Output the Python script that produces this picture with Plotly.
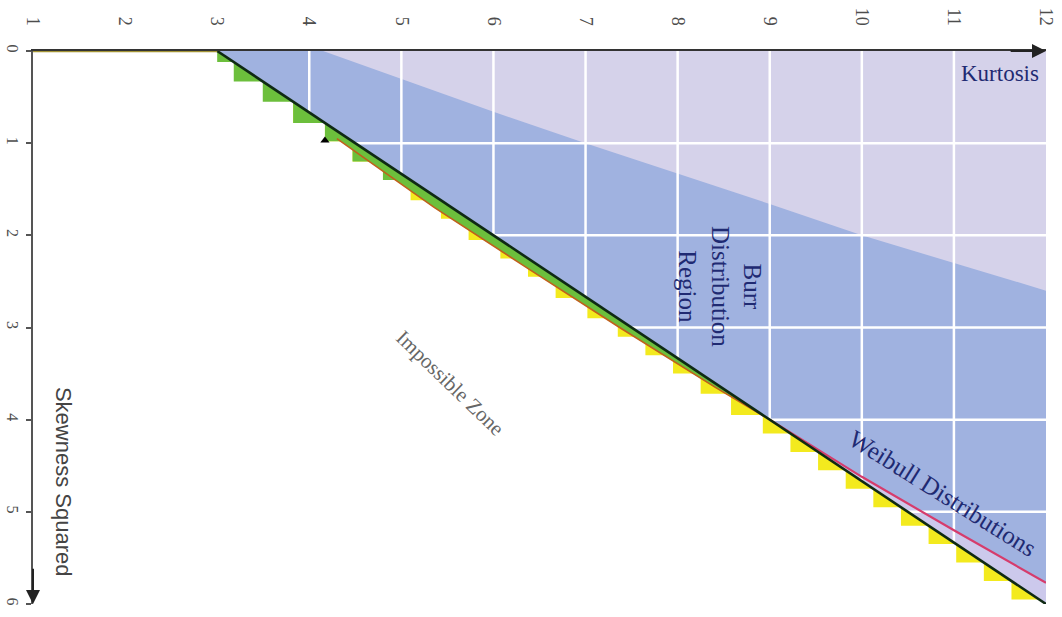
import numpy as np
import plotly.graph_objects as go

# ---------------- data ----------------
kurt_ticks = [1, 2, 3, 4, 5, 6, 7, 8, 9, 10, 11, 12]
skew_ticks = [0, 1, 2, 3, 4, 5, 6]

# gamma (lower Burr) boundary line: kurtosis vs skewness squared
gamma_k = [3.0, 12.0]
gamma_s = [0.0, 6.0]

# upper edge of Burr region (lavender above)
burr_top_k = [4.15, 5.0, 6.0, 7.0, 8.0, 9.0, 10.0, 11.0, 12.0]
burr_top_s = [0.0, 0.30, 0.66, 1.0, 1.33, 1.66, 2.0, 2.3, 2.6]

# Weibull curve (kurtosis, skewness squared)
weib_k = [4.30, 5.36, 6.36, 7.37, 8.41, 9.0, 10.0, 11.0, 12.0]
weib_s = [0.95, 1.70, 2.35, 3.00, 3.65, 4.0, 4.62, 5.20, 5.77]

# staircase levels (skewness squared) of the rasterised boundary band
stair_s = [0.0, 0.12, 0.33, 0.55, 0.78, 0.98, 1.2, 1.4, 1.62, 1.82, 2.05, 2.25,
           2.45, 2.68, 2.9, 3.1, 3.3, 3.5, 3.72, 3.95, 4.15, 4.35, 4.55, 4.75,
           4.95, 5.15, 5.35, 5.55, 5.75, 5.95]
green_stair_until = 1.4

grid_k = [4, 5, 6, 7, 8, 9, 10, 11]
grid_s = [1, 2, 3, 4, 5]

marker_k = [4.17]
marker_s = [0.97]

# ---------------- colours ----------------
BLUE = '#a0b2e0'
LAVENDER = '#d5d2ea'
STRIP = '#ccc9ec'
GREEN = '#6cbf3c'
YELLOW = '#f3ea1e'
NAVY = '#1f2a72'


def line_k(s):
    return float(np.interp(s, gamma_s, gamma_k))


def stair_poly(levels):
    xs, ys = [], []
    for a, b in zip(levels[:-1], levels[1:]):
        xs += [line_k(a), line_k(a), line_k(b)]
        ys += [a, b, b]
    xs += [line_k(levels[-1]), line_k(levels[0])]
    ys += [levels[-1], levels[0]]
    return xs, ys


fig = go.Figure()

# blue Burr region (right of gamma line)
fig.add_trace(go.Scatter(x=[gamma_k[0], gamma_k[1], kurt_ticks[-1], gamma_k[0]],
                         y=[gamma_s[0], gamma_s[1], skew_ticks[0], gamma_s[0]],
                         fill='toself', fillcolor=BLUE, line=dict(width=0),
                         mode='lines', hoverinfo='skip'))
# lavender region above
fig.add_trace(go.Scatter(x=burr_top_k + [kurt_ticks[-1], burr_top_k[0]],
                         y=burr_top_s + [skew_ticks[0], burr_top_s[0]],
                         fill='toself', fillcolor=LAVENDER, line=dict(width=0),
                         mode='lines', hoverinfo='skip'))
# light strip between Weibull curve and gamma line
wk = [k for k, s in zip(weib_k, weib_s) if s >= 4.0]
ws = [s for s in weib_s if s >= 4.0]
fig.add_trace(go.Scatter(x=wk + [gamma_k[1], wk[0]],
                         y=ws + [gamma_s[1], ws[0]],
                         fill='toself', fillcolor=STRIP, line=dict(width=0),
                         mode='lines', hoverinfo='skip'))

# yellow staircase
ys_levels = [s for s in stair_s if s >= 0.55]
sx, sy = stair_poly(ys_levels)
fig.add_trace(go.Scatter(x=sx, y=sy, fill='toself', fillcolor=YELLOW,
                         line=dict(width=0), mode='lines', hoverinfo='skip'))
# green staircase near the top
gs_levels = [s for s in stair_s if s <= green_stair_until]
sx, sy = stair_poly(gs_levels)
fig.add_trace(go.Scatter(x=sx, y=sy, fill='toself', fillcolor=GREEN,
                         line=dict(width=0), mode='lines', hoverinfo='skip'))
# green band between gamma line and Weibull curve
bk = [k for k, s in zip(weib_k, weib_s) if s <= 4.0]
bs = [s for s in weib_s if s <= 4.0]
fig.add_trace(go.Scatter(x=bk + [line_k(bs[-1]), line_k(bs[0])],
                         y=bs + [bs[-1], bs[0]],
                         fill='toself', fillcolor=GREEN, line=dict(width=0),
                         mode='lines', hoverinfo='skip'))

# white grid lines inside the coloured region
for k in grid_k:
    s_end = float(np.interp(k, gamma_k, gamma_s))
    fig.add_trace(go.Scatter(x=[k, k], y=[skew_ticks[0], s_end], mode='lines',
                             line=dict(color='white', width=2.5), hoverinfo='skip'))
for s in grid_s:
    fig.add_trace(go.Scatter(x=[line_k(s), kurt_ticks[-1]], y=[s, s], mode='lines',
                             line=dict(color='white', width=2.5), hoverinfo='skip'))

# Weibull curve: orange part below the line, red part above
fig.add_trace(go.Scatter(x=bk, y=bs, mode='lines',
                         line=dict(color='#c0601c', width=1.6), hoverinfo='skip'))
fig.add_trace(go.Scatter(x=wk, y=ws, mode='lines',
                         line=dict(color='#d63c6c', width=2.2), hoverinfo='skip'))

# gamma boundary line
fig.add_trace(go.Scatter(x=gamma_k, y=gamma_s, mode='lines',
                         line=dict(color='#0f2a14', width=2.6), hoverinfo='skip'))

# olive line on the top axis from kurtosis 1 to 3
fig.add_trace(go.Scatter(x=[kurt_ticks[0], gamma_k[0]], y=[0, 0], mode='lines',
                         line=dict(color='#a39436', width=2.5), hoverinfo='skip'))

# small black marker
fig.add_trace(go.Scatter(x=marker_k, y=marker_s, mode='markers',
                         marker=dict(symbol='triangle-up', size=8, color='black'),
                         hoverinfo='skip'))

fig.update_xaxes(range=[kurt_ticks[0], kurt_ticks[-1]], side='top',
                 tickvals=kurt_ticks, ticktext=[str(v) for v in kurt_ticks],
                 tickangle=90,
                 tickfont=dict(family='Liberation Serif', size=18, color='#4d4d4d'),
                 showgrid=False, zeroline=False,
                 showline=True, linecolor='#333333', linewidth=2,
                 ticks='', ticklabelstandoff=17, automargin=False)
fig.update_yaxes(range=[skew_ticks[-1], skew_ticks[0]],
                 tickvals=skew_ticks, ticktext=[str(v) for v in skew_ticks],
                 tickangle=90,
                 tickfont=dict(family='Liberation Serif', size=16, color='#4d4d4d'),
                 showgrid=False, zeroline=False,
                 showline=True, linecolor='#555555', linewidth=2,
                 ticks='outside', ticklen=5, tickcolor='#555555', tickwidth=1.5,
                 ticklabelstandoff=0, automargin=False)

annotations = [
    dict(x=kurt_ticks[-1], y=skew_ticks[0], ax=kurt_ticks[-1] - 0.4, ay=skew_ticks[0],
         xref='x', yref='y', axref='x', ayref='y', showarrow=True, arrowhead=2,
         arrowsize=1.4, arrowwidth=2, arrowcolor='#222222', text=''),
    dict(x=kurt_ticks[0], y=skew_ticks[-1], ax=kurt_ticks[0], ay=skew_ticks[-1] - 0.4,
         xref='x', yref='y', axref='x', ayref='y', showarrow=True, arrowhead=2,
         arrowsize=1.4, arrowwidth=2, arrowcolor='#222222', text=''),
    dict(x=11.95, y=0.24, xref='x', yref='y', text='Kurtosis', showarrow=False,
         xanchor='right', yanchor='middle',
         font=dict(family='Liberation Serif', size=23, color=NAVY)),
    dict(x=8.46, y=2.55, xref='x', yref='y', text='Burr<br>Distribution<br>Region',
         showarrow=False, textangle=90,
         font=dict(family='Liberation Serif', size=25, color=NAVY)),
    dict(x=10.88, y=4.8, xref='x', yref='y', text='Weibull Distributions',
         showarrow=False, textangle=32,
         font=dict(family='Liberation Serif', size=25, color=NAVY)),
    dict(x=5.53, y=3.6, xref='x', yref='y', text='Impossible Zone',
         showarrow=False, textangle=44,
         font=dict(family='Liberation Serif', size=21, color='#666666')),
    dict(x=1.33, y=4.68, xref='x', yref='y', text='Skewness Squared',
         showarrow=False, textangle=90,
         font=dict(family='Liberation Sans', size=22, color='#444444')),
]

fig.update_layout(width=1062, height=617,
                  margin=dict(l=33, r=16, t=51, b=13),
                  plot_bgcolor='white', paper_bgcolor='white',
                  showlegend=False, annotations=annotations)

fig.write_html('out.html', config={'displayModeBar': False},
               post_script="document.body.style.margin='0';"
                           "document.body.style.overflow='hidden';")
